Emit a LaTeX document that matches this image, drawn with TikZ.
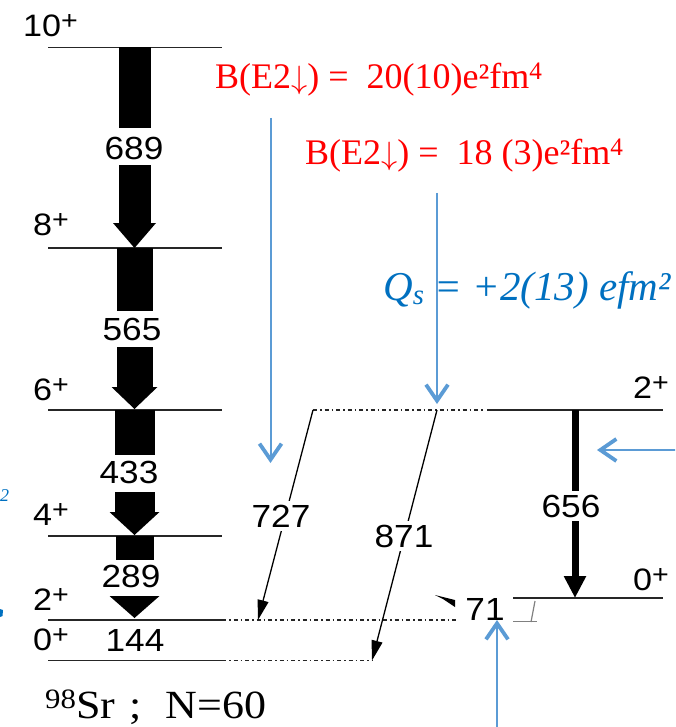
\documentclass[tikz,border=0pt]{standalone}
\usepackage{fontspec}
\usepackage{graphicx}
\setmainfont{Liberation Serif}
\newfontfamily\arl[FakeStretch=1.1]{Liberation Sans}
\newfontfamily\tms[FakeStretch=1.1]{Liberation Serif}
\usetikzlibrary{arrows.meta}
\definecolor{office}{HTML}{5B9BD5}
\definecolor{qblue}{HTML}{0070C0}
\definecolor{redt}{HTML}{FF0000}
\newcommand{\jpi}[1]{#1\raisebox{7pt}{\fontsize{26}{26}\selectfont +}}
\newcommand{\bigarr}[7]{%
  \fill (134.5-#6,#1) rectangle (134.5+#6,#2);
  \fill (134.5-#6,#3) rectangle (134.5+#6,#4);
  \fill (134.5-#7,#4) -- (134.5+#7,#4) -- (134.5,#5) -- cycle;}
\newcommand{\dnarr}{\scalebox{1.3}{\(\downarrow\)}}
\begin{document}
\begin{tikzpicture}[x=1pt,y=-1pt,
  lvl/.style={line width=1.4pt,black!85},
  dotlvl/.style={line width=1.4pt,black!85,dash pattern=on 4pt off 3pt on 1.5pt off 3pt},
  egam/.style={font=\arl\fontsize{32}{32}\selectfont,inner sep=0pt,anchor=base},
  spinlab/.style={font=\arl\fontsize{31}{31}\selectfont,inner sep=0pt,anchor=base west},
  gwhite/.style={egam,fill=white,inner sep=4pt},
  thin gamma/.style={line width=1.3pt,-{Triangle[length=20pt,width=11pt]}},
  thick gamma/.style={line width=7pt,-{Triangle[length=22pt,width=21pt]}},
  bluearr/.style={office,line width=2pt,-{Straight Barb[length=16pt,width=22pt,line width=3.8pt]}},
  redtxt/.style={redt,font=\fontsize{36}{36}\selectfont,inner sep=0pt,anchor=base west}]
\useasboundingbox (0,0) rectangle (675,727);
\clip (0,0) rectangle (675,727);
% level coordinates
\coordinate (l10a) at (48,47.5);  \coordinate (l10b) at (222,47.5);
\coordinate (l8a) at (48,248);    \coordinate (l8b) at (222,248);
\coordinate (l6a) at (48,410);    \coordinate (l6b) at (222,410);
\coordinate (l4a) at (48,536);    \coordinate (l4b) at (222,536);
\coordinate (l2a) at (48,620);    \coordinate (l2b) at (222,620);
\coordinate (l0a) at (48,660.5);  \coordinate (l0b) at (222,660.5);
\coordinate (g2a) at (313,410);   \coordinate (g2b) at (483,410);
\coordinate (r2a) at (487,410);   \coordinate (r2b) at (663,410);
\coordinate (r0a) at (513,598);   \coordinate (r0b) at (663,598);
\coordinate (d2e) at (457,620);   \coordinate (d0e) at (372,660.5);
\coordinate (t727) at (258,620);  \coordinate (s871) at (437,410);
\coordinate (t656a) at (575,410); \coordinate (t656b) at (575,598);
% levels
\draw[lvl] (l10a) -- (l10b);
\draw[lvl] (l8a) -- (l8b);
\draw[lvl] (l6a) -- (l6b);
\draw[lvl] (l4a) -- (l4b);
\draw[lvl] (l2a) -- (l2b);
\draw[lvl] (l0a) -- (l0b);
\draw[dotlvl] (l2b) -- (d2e);
\draw[dotlvl] (l0b) -- (d0e);
\draw[dotlvl] (g2a) -- (g2b);
\draw[lvl] (r2a) -- (r2b);
\draw[lvl] (r0a) -- (r0b);
% spin labels
\node[spinlab] (s10) at (23,37) {\jpi{10}};
\node[spinlab] (s8) at (33,235) {\jpi{8}};
\node[spinlab] (s6) at (33,400) {\jpi{6}};
\node[spinlab] (s4) at (33,525) {\jpi{4}};
\node[spinlab] (s2) at (33,610) {\jpi{2}};
\node[spinlab] (s0) at (33,650) {\jpi{0}};
\node[spinlab] (r2) at (633,398) {\jpi{2}};
\node[spinlab] (r0) at (633,590) {\jpi{0}};
% big ground-band arrows
\bigarr{47.5}{128}{165}{223}{248}{16}{21.5}
\bigarr{248}{311}{347}{387}{409}{18}{23}
\bigarr{410}{455}{492}{512}{535}{20}{25}
\bigarr{536}{560}{596}{596}{618}{19}{25}
\node[egam] (e689) at (134,160) {689};
\node[egam] (e565) at (132,340) {565};
\node[egam] (e433) at (129,483) {433};
\node[egam] (e289) at (131,587) {289};
\node[egam] (e144) at (135,651) {144};
% inter-band transitions
\draw[thin gamma] (g2a) -- (t727);
\draw[thin gamma] (s871) -- (d0e);
\draw[thick gamma] (t656a) -- (t656b);
\node[gwhite] (e727) at (281,527) {727};
\node[gwhite] (e871) at (404,547) {871};
\node[gwhite] (e656) at (571,517) {656};
\node[egam] (e71) at (485,620) {71};
% small marks near 71
\fill (435,595) -- (455,600) -- (455,607) -- (443,599) -- cycle;
\draw[gray,line width=1.2pt] (535,601) -- (531,622);
\draw[gray,line width=1.2pt] (513,621.5) -- (537,621.5);
% red texts
\node[redtxt] (b1) at (215,89) {B(E2\dnarr) =\ \ 20(10)e²fm\textsuperscript{4}};
\node[redtxt] (b2) at (305,165) {B(E2\dnarr) =\ \ 18 (3)e²fm\textsuperscript{4}};
% Q_s
\node[qblue,font=\itshape\fontsize{41}{41}\selectfont,inner sep=0pt,anchor=base west] (qs) at (383,300) {Q\textsubscript{s} = +2(13) efm²};
% blue arrows
\coordinate (ba1s) at (270.5,118); \coordinate (ba1e) at (270.5,463);
\coordinate (ba2s) at (437,193);   \coordinate (ba2e) at (437,404);
\coordinate (ba3s) at (680,450);   \coordinate (ba3e) at (597,450);
\coordinate (ba4s) at (497,732);   \coordinate (ba4e) at (497,620);
\draw[bluearr] (ba1s) -- (ba1e);
\draw[bluearr] (ba2s) -- (ba2e);
\draw[bluearr] (ba3s) -- (ba3e);
\draw[bluearr] (ba4s) -- (ba4e);
% left-edge fragments
\node[qblue,font=\itshape\fontsize{18}{18}\selectfont,inner sep=0pt,anchor=base west] (frag1) at (0,501) {2};
\fill[qblue] (0,609) -- (3,610) -- (2.5,616) -- (0,617) -- cycle;
% nucleus label
\node[font=\tms\fontsize{40}{40}\selectfont,inner sep=0pt,anchor=base west] (nuc) at (45,718) {\textsuperscript{98}Sr\hspace{14pt};\hspace{24pt}N=60};
\end{tikzpicture}
\end{document}
